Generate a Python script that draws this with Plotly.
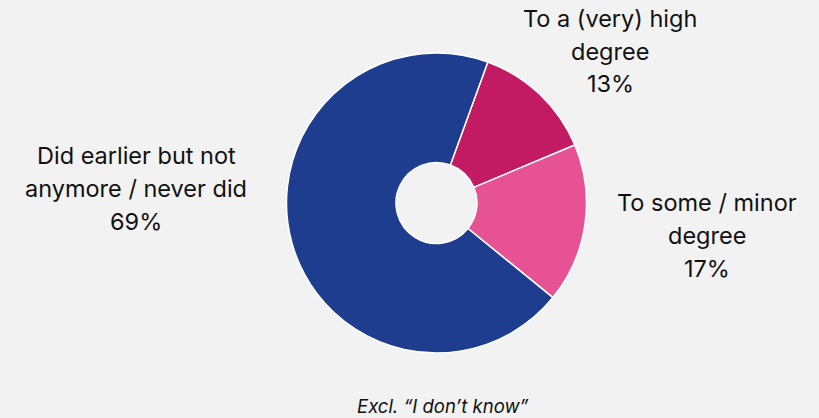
import plotly.graph_objects as go

# ---- data -------------------------------------------------------------
labels = ["To a (very) high degree", "To some / minor degree", "Did earlier but not anymore / never did"]
label_lines = [["To a (very) high", "degree"], ["To some / minor", "degree"], ["Did earlier but not", "anymore / never did"]]
values = [13, 17, 69]
colors = ["#c21a63", "#e75295", "#1f3d8f"]
note = "Excl. “I don’t know”"

W, H = 819, 418
FONT = "Inter, 'Noto Sans', sans-serif"

fig = go.Figure(go.Pie(
    labels=labels, values=values, sort=False, direction="clockwise", rotation=20,
    hole=0.27, textinfo="none", hoverinfo="label+percent",
    marker=dict(colors=colors, line=dict(color="#ffffff", width=1.5)),
    domain=dict(x=[(436.5 - 150) / W, (436.5 + 150) / W], y=[(H - 353) / H, (H - 53) / H]),
    showlegend=False,
))

# label positions in pixels (centre x, first line y)
pos = [(610, 18), (707, 202), (136, 155)]
step = 33
for lines, v, (px, py) in zip(label_lines, values, pos):
    for i, t in enumerate(lines + [f"{v}%"]):
        fig.add_annotation(x=px / W, y=1 - (py + i * step) / H, xref="paper", yref="paper",
                           text=t, showarrow=False, xanchor="center", yanchor="middle",
                           font=dict(size=23.5, color="#111111", family=FONT))

fig.add_annotation(x=443 / W, y=1 - 406 / H, xref="paper", yref="paper",
                   text=f"<i>{note}</i>", showarrow=False, xanchor="center", yanchor="middle",
                   font=dict(size=18.5, color="#111111", family=FONT))

fig.update_layout(width=W, height=H, margin=dict(l=0, r=0, t=0, b=0),
                  paper_bgcolor="#f2f2f2", plot_bgcolor="#f2f2f2")

fig.write_html("out.html", config={"displayModeBar": False},
               post_script="document.body.style.margin='0';")
